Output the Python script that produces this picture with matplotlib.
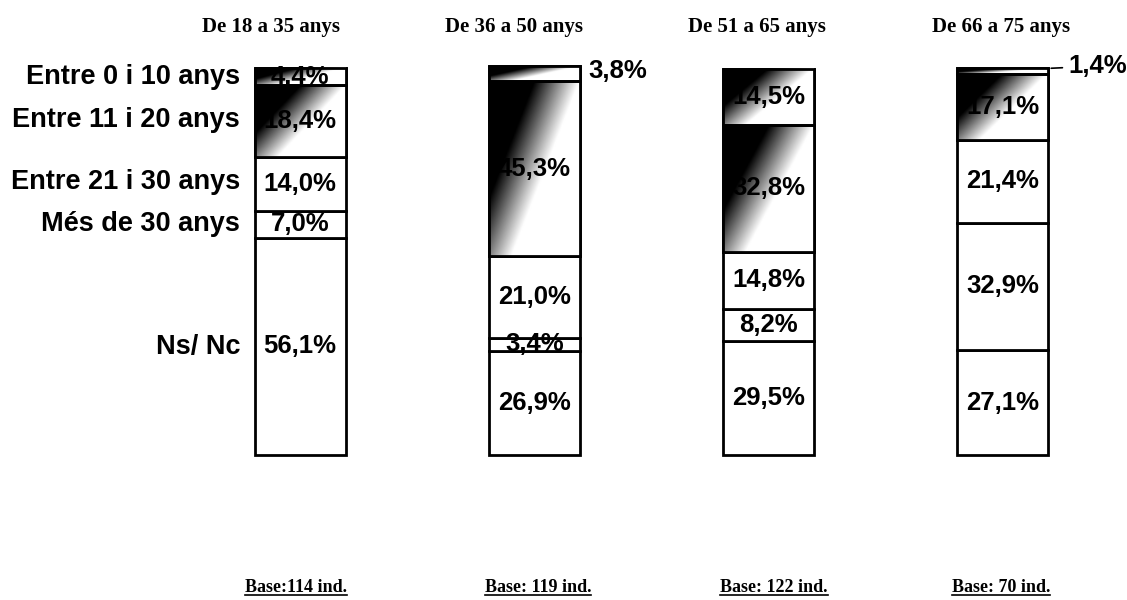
import matplotlib
matplotlib.use("Agg")

import matplotlib.pyplot as plt
import numpy as np

groups = ["De 18 a 35 anys", "De 36 a 50 anys", "De 51 a 65 anys", "De 66 a 75 anys"]
bases = ["Base:114 ind.", "Base: 119 ind.", "Base: 122 ind.", "Base: 70 ind."]
categories = ["Entre 0 i 10 anys", "Entre 11 i 20 anys", "Entre 21 i 30 anys",
              "Més de 30 anys", "Ns/ Nc"]

# values per category (top to bottom), one entry per age group
v_0_10 = [4.4, 3.8, 14.5, 1.4]
v_11_20 = [18.4, 45.3, 32.8, 17.1]
v_21_30 = [14.0, 21.0, 14.8, 21.4]
v_30_plus = [7.0, 3.4, 8.2, 32.9]
v_nsnc = [56.1, 26.9, 29.5, 27.1]

series = [v_0_10, v_11_20, v_21_30, v_30_plus, v_nsnc]

W, H = 1127, 600
fig = plt.figure(figsize=(W / 100, H / 100), dpi=100)

# bars: centres at 300 + 234.3*i px, bottom y=455 px, top y=68 px
step = 234.3
x0 = 300 - 0.5 * step
ax = fig.add_axes([x0 / W, (H - 455) / H, 4 * step / W, 387 / H])
ax.set_xlim(-0.5, 3.5)
ax.set_ylim(0, 100)
ax.axis('off')

def px_x(p):
    return (p - 300) / step

def px_y(p):
    return (455 - p) / 3.87

width = 91 / step
sans = ['Liberation Sans', 'DejaVu Sans']
serif = ['Liberation Serif', 'DejaVu Serif']
pct_fs = 18.5

# gradient used for the two upper segments (dark top-left -> white bottom-right)
gx, gy = np.meshgrid(np.linspace(0, 1, 80), np.linspace(0, 1, 80))
grad = np.clip((gx * 1.0 + gy * 0.75 - 0.5) / 0.5, 0, 1)

n = len(groups)
for i in range(n):
    vals = [s[i] for s in series]
    bottom = 0.0
    # stack from the bottom (Ns/Nc) upward
    seg = []
    for k in range(len(vals) - 1, -1, -1):
        seg.append((k, bottom, vals[k]))
        bottom += vals[k]
    for k, b, h in seg:
        rect = ax.bar(i, h, width=width, bottom=b, color='white',
                      edgecolor='black', linewidth=2.0, zorder=2, clip_on=False)[0]
        if k < 2:
            im = ax.imshow(grad, cmap='gray', origin='upper', aspect='auto',
                           extent=(i - width / 2, i + width / 2, b, b + h),
                           zorder=2.5, interpolation='bilinear', clip_on=False)
            im.set_clip_path(rect)
            ax.bar(i, h, width=width, bottom=b, fill=False,
                   edgecolor='black', linewidth=2.0, zorder=3, clip_on=False)
        lab = f"{h:.1f}%".replace('.', ',')
        if h < 4.0 and k == 0:
            if i == 3:
                ax.annotate(lab, xy=(i + width / 2, b + h), xytext=(px_x(1068), b + h + 0.6),
                            fontsize=pct_fs, fontweight='bold', family=sans, va='center', ha='left',
                            arrowprops=dict(arrowstyle='-', color='black', lw=1.2),
                            annotation_clip=False)
            else:
                ax.text(i + width / 2 + 0.035, b + h / 2 + 0.6, lab, fontsize=pct_fs,
                        fontweight='bold', family=sans, va='center', ha='left', zorder=4)
        else:
            ax.text(i, b + h / 2, lab, fontsize=pct_fs, fontweight='bold', family=sans,
                    va='center', ha='center', zorder=4)

# group titles (centres read in pixels)
title_x = [271, 514, 757, 1001]
for i, g in enumerate(groups):
    ax.text(px_x(title_x[i]), px_y(27), g, fontsize=15, fontweight='bold', family=serif,
            ha='center', va='center', clip_on=False)

# category labels, aligned with the first bar's segments
label_y = [77, 120, 182, 224, 347]
for k, cat in enumerate(categories):
    ax.text(px_x(240), px_y(label_y[k]), cat, fontsize=19.5, fontweight='bold', family=sans,
            ha='right', va='center', clip_on=False)

# base labels (underlined)
base_x = [296, 538, 774, 1001]
base_texts = []
for i, bt in enumerate(bases):
    t = ax.text(px_x(base_x[i]), px_y(587), bt, fontsize=13, fontweight='bold', family=serif,
                ha='center', va='center', clip_on=False)
    base_texts.append(t)

fig.canvas.draw()
r = fig.canvas.get_renderer()
for t in base_texts:
    bb = t.get_window_extent(r)
    yline = (bb.y0 + 1) / H
    fig.add_artist(plt.Line2D([bb.x0 / W, bb.x1 / W], [yline, yline],
                              color='black', lw=1.2))

fig.savefig('out.png', dpi=100)
plt.close(fig)
